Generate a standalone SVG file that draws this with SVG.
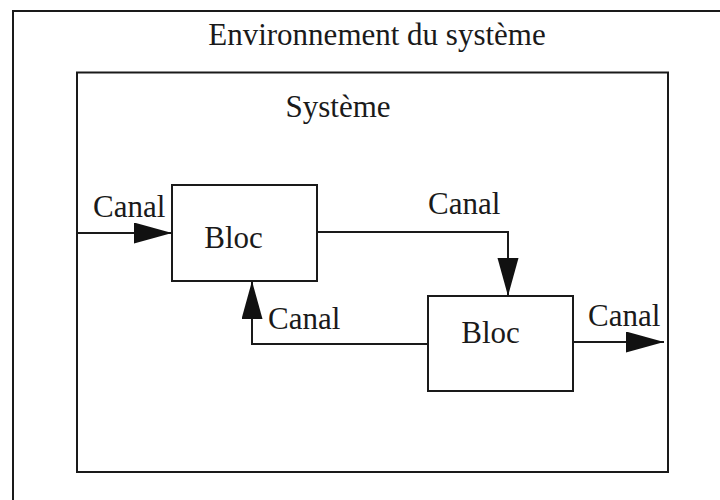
<svg xmlns="http://www.w3.org/2000/svg" width="720" height="500" viewBox="0 0 720 500">
  <style>
    .frame { fill: none; stroke: #1a1a1a; stroke-width: 2; }
    .box { fill: #ffffff; stroke: #1a1a1a; stroke-width: 2; }
    .wire { fill: none; stroke: #1a1a1a; stroke-width: 2; }
    .lbl { font-family: "Liberation Serif", "Times New Roman", serif; font-size: 31px; fill: #1a1a1a; }
  </style>
  <defs>
    <marker id="arrow" markerUnits="userSpaceOnUse" markerWidth="40" markerHeight="22" refX="38" refY="10.5" orient="auto">
      <path d="M0,0 L38,10.5 L0,21 Z" fill="#111111"/>
    </marker>
  </defs>

  <rect width="720" height="500" fill="#ffffff"/>

  <!-- environment frame (open on right and bottom) -->
  <g id="environnement">
    <path class="frame" d="M13,500 V11 H720"/>
    <text class="lbl" x="377" y="45" text-anchor="middle">Environnement du système</text>
  </g>

  <!-- system boundary -->
  <g id="systeme">
    <rect class="frame" x="77" y="72.5" width="591" height="399.5"/>
    <text class="lbl" x="338" y="117" text-anchor="middle">Système</text>
  </g>

  <!-- blocks -->
  <g id="bloc1">
    <rect class="box" x="172" y="185" width="145" height="96"/>
    <text class="lbl" x="233.5" y="248" text-anchor="middle">Bloc</text>
  </g>
  <g id="bloc2">
    <rect class="box" x="428" y="296" width="145" height="95"/>
    <text class="lbl" x="490.5" y="343" text-anchor="middle">Bloc</text>
  </g>

  <!-- channels -->
  <g id="connectors">
    <path class="wire" d="M77,233 H172" marker-end="url(#arrow)"/>
    <path class="wire" d="M317,232 H508 V296" marker-end="url(#arrow)"/>
    <path class="wire" d="M428,344 H252 V281" marker-end="url(#arrow)"/>
    <path class="wire" d="M573,342 H664" marker-end="url(#arrow)"/>
  </g>

  <g id="connector-labels">
    <text class="lbl" x="93" y="217">Canal</text>
    <text class="lbl" x="428" y="214">Canal</text>
    <text class="lbl" x="268" y="329">Canal</text>
    <text class="lbl" x="588" y="326">Canal</text>
  </g>
</svg>
